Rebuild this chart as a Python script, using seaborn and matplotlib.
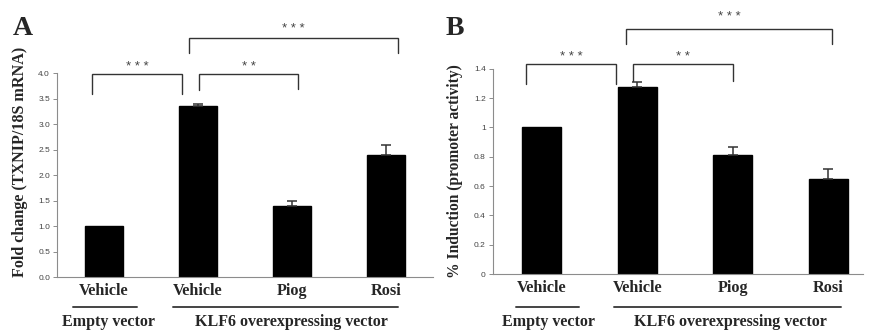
import numpy as np
import pandas as pd
import matplotlib
matplotlib.use("Agg")
import matplotlib.pyplot as plt
import seaborn as sns

# Data
conditions = ["Vehicle", "Vehicle", "Piog", "Rosi"]
groups = ["Empty vector", "KLF6 overexpressing vector"]
fold_change = [1.0, 3.35, 1.40, 2.40]
fold_err = [0.0, 0.05, 0.10, 0.20]
induction = [1.0, 1.275, 0.815, 0.65]
induction_err = [0.0, 0.035, 0.05, 0.07]

sns.set_theme(style="white")
plt.rcParams["font.family"] = ["Liberation Sans", "DejaVu Sans"]

serif = "Liberation Serif"
gray = "#8c8c8c"

fig = plt.figure(figsize=(8.69, 3.31), dpi=100)
axA = fig.add_axes([0.0656, 0.163, 0.4324, 0.616])
axB = fig.add_axes([0.567, 0.172, 0.426, 0.620])


def draw_panel(ax, values, errs, ylim, yticks, ticklabels, ylabel, xlim, lab_xy, lab_size):
    df = pd.DataFrame({"pos": [f"c{i}" for i in range(len(values))], "value": values})
    sns.barplot(data=df, x="pos", y="value", color="black", width=0.41,
                edgecolor="black", saturation=1, ax=ax)
    x = np.arange(len(values))
    e = np.array(errs)
    mask = e > 0
    ax.errorbar(x[mask], np.array(values)[mask], yerr=[np.zeros(mask.sum()), e[mask]],
                fmt="none", ecolor="#333333", elinewidth=1.1, capsize=3.5, capthick=1.1)
    ax.set_ylim(*ylim)
    ax.set_xlim(*xlim)
    ax.set_yticks(yticks)
    ax.set_yticklabels(ticklabels, fontsize=6.0, color="#444444")
    ax.set_xticks(x)
    ax.set_xticklabels(conditions, fontfamily=serif, fontweight="bold", fontsize=11.7)
    ax.tick_params(axis="x", length=0, pad=4)
    ax.tick_params(axis="y", length=3, width=0.7, color=gray, direction="out", pad=2, left=True)
    for s in ["top", "right"]:
        ax.spines[s].set_visible(False)
    for s in ["left", "bottom"]:
        ax.spines[s].set_color(gray)
        ax.spines[s].set_linewidth(0.8)
    ax.set_xlabel("")
    ax.set_ylabel(ylabel, fontfamily=serif, fontweight="bold", fontsize=lab_size,
                  va="center")
    ax.yaxis.set_label_coords(*lab_xy)


def bracket(ax, x0, x1, ytop, yb0, yb1, ystar, stars):
    ax.plot([x0, x0, x1, x1], [yb0, ytop, ytop, yb1], color="#333333", lw=1.0,
            clip_on=False, solid_joinstyle="miter")
    ax.text((x0 + x1) / 2, ystar, stars, ha="center", va="center", fontsize=9.5,
            color="#444444", clip_on=False)


draw_panel(axA, fold_change, fold_err, (0, 4.0),
           np.arange(0, 4.01, 0.5), [f"{v:.1f}" for v in np.arange(0, 4.01, 0.5)],
           "Fold change (TXNIP/18S mRNA)", (-0.5, 3.5), (-0.098, 0.564), 11.6)
draw_panel(axB, induction, induction_err, (0, 1.4),
           [0, 0.2, 0.4, 0.6, 0.8, 1.0, 1.2, 1.4],
           ["0", "0.2", "0.4", "0.6", "0.8", "1", "1.2", "1.4"],
           "% Induction (promoter activity)", (-0.51, 3.36), (-0.103, 0.50), 11.2)

# significance brackets
bracket(axA, -0.13, 0.83, 3.98, 3.60, 3.60, 4.13, "* * *")
bracket(axA, 1.01, 2.07, 3.98, 3.66, 3.68, 4.13, "* *")
bracket(axA, 0.91, 3.13, 4.69, 4.40, 4.40, 4.87, "* * *")
bracket(axB, -0.16, 0.78, 1.43, 1.30, 1.30, 1.48, "* * *")
bracket(axB, 0.96, 2.00, 1.43, 1.32, 1.32, 1.48, "* *")
bracket(axB, 0.88, 3.04, 1.67, 1.57, 1.57, 1.755, "* * *")

# group lines and labels below the axes (pixel positions in figure)
W, H = 869, 331
for (x0, x1, cx, label) in [(73, 137, 109, groups[0]), (173, 398, 291, groups[1]),
                            (516, 579, 549, groups[0]), (614, 841, 730, groups[1])]:
    fig.add_artist(plt.Line2D([x0 / W, x1 / W], [1 - 307 / H, 1 - 307 / H],
                              color="#444444", lw=1.4))
    fig.text(cx / W, 1 - 330 / H, label, ha="center", va="bottom", fontfamily=serif,
             fontweight="bold", fontsize=11.5)

fig.text(13 / W, 1 - 35 / H, "A", fontfamily=serif, fontweight="bold", fontsize=20,
         ha="left", va="baseline")
fig.text(446 / W, 1 - 35 / H, "B", fontfamily=serif, fontweight="bold", fontsize=20,
         ha="left", va="baseline")

fig.savefig("out.png", dpi=100)
